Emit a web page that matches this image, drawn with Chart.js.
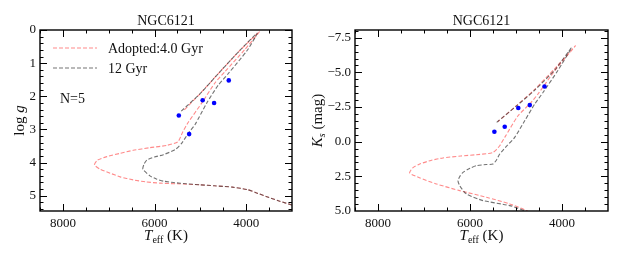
<!DOCTYPE html>
<html>
<head>
<meta charset="utf-8">
<script src="https://cdn.jsdelivr.net/npm/chart.js@4.4.1/dist/chart.umd.min.js"></script>
<style>
  body { margin: 0; background: #fff; }
  #wrap { position: relative; width: 623px; height: 260px; }
  canvas { position: absolute; top: 0; }
</style>
</head>
<body>
<div id="wrap">
  <canvas id="left" width="311" height="260" style="left:0;width:311px;height:260px"></canvas>
  <canvas id="right" width="312" height="260" style="left:311px;width:312px;height:260px"></canvas>
</div>
<script>
// NGC6121: Teff-logg and Teff-Ks diagrams with two isochrones and 5 stars.
const starTeff = [5470, 5245, 4950, 4700, 4380];
const starLogg = [2.58, 3.14, 2.12, 2.20, 1.52];
const starKs = [-0.72, -1.08, -2.43, -2.64, -3.98];

// adopted 4.0 Gyr isochrone
const youngTeffG = [3000, 3300, 3550, 3800, 3960, 4300, 4700, 5000, 5500, 5880, 6200, 6467, 6750, 6968, 7200, 7311, 7250, 7040, 6750, 6467, 6100, 5732, 5490, 5380, 5267, 4968, 4678, 4460, 4024, 3712, 4134, 4526, 5006, 5380];
const youngLogg  = [5.28, 5.15, 5.03, 4.90, 4.82, 4.74, 4.70, 4.67, 4.64, 4.62, 4.58, 4.52, 4.43, 4.32, 4.19, 4.07, 3.93, 3.82, 3.72, 3.63, 3.55, 3.48, 3.37, 3.06, 2.79, 2.20, 1.59, 1.25, 0.58, 0.05, 0.61, 1.19, 1.92, 2.45];

// 12 Gyr isochrone
const oldTeffG = [3000, 3300, 3550, 3800, 3960, 4300, 4700, 5000, 5300, 5580, 5806, 5950, 6100, 6255, 6230, 6168, 6000, 5806, 5551, 5405, 5261, 5115, 4860, 4613, 4395, 3980, 3762, 4134, 4526, 5006, 5420];
const oldLogg  = [5.28, 5.15, 5.03, 4.90, 4.82, 4.74, 4.70, 4.67, 4.64, 4.60, 4.56, 4.50, 4.40, 4.20, 4.05, 3.92, 3.83, 3.76, 3.61, 3.41, 3.11, 2.85, 2.20, 1.67, 1.32, 0.62, 0.10, 0.61, 1.19, 1.92, 2.45];

const youngTeffK = [4600, 4774, 5137, 5643, 6224, 6730, 7100, 7311, 7250, 7093, 6850, 6587, 6200, 5861, 5600, 5500, 5420, 5354, 5245, 4956, 4702, 4522, 4159, 3709, 4150, 4600, 4990, 5398];
const youngKs    = [5.35, 4.97, 4.49, 4.01, 3.53, 3.05, 2.60, 2.26, 1.90, 1.61, 1.35, 1.17, 1.03, 0.94, 0.85, 0.77, 0.55, 0.29, -0.31, -1.87, -2.72, -3.44, -5.12, -6.92, -5.30, -3.75, -2.60, -1.44];

const oldTeffK = [4600, 4774, 5137, 5717, 6078, 6220, 6261, 6220, 6152, 6000, 5861, 5650, 5500, 5420, 5354, 5200, 5028, 4811, 4593, 4413, 4093, 3796, 4150, 4600, 5000, 5420];
const oldKs    = [5.35, 5.04, 4.61, 4.25, 3.77, 3.20, 2.81, 2.50, 2.21, 1.92, 1.73, 1.65, 1.61, 1.30, 0.89, 0.30, -0.31, -1.51, -2.72, -3.55, -5.12, -6.77, -5.20, -3.70, -2.55, -1.40];

const teffTicks = [4000, 6000, 8000];
const loggTicks = [0, 1, 2, 3, 4, 5];
const ksTicks = [-7.5, -5, -2.5, 0, 2.5, 5];

const SERIF = "'Liberation Serif', 'DejaVu Serif', serif";
const RED = 'rgba(255, 60, 60, 0.6)';
const GREY = 'rgba(40, 40, 40, 0.65)';
const DASH = [4, 2];

const pts = (xs, ys) => xs.map((v, i) => ({ x: v, y: ys[i] }));

function minorValues(scale, step) {
    const lo = Math.min(scale.min, scale.max), hi = Math.max(scale.min, scale.max);
    const out = [];
    for (let v = Math.ceil(lo / step) * step; v <= hi + 1e-9; v += step) out.push(v);
    return out;
}

// draws text pieces (mixed italic / subscript) centred on (cx, cy)
function drawRich(ctx, parts, cx, cy, rotate) {
    ctx.save();
    ctx.translate(cx, cy);
    if (rotate) ctx.rotate(-Math.PI / 2);
    let total = 0;
    parts.forEach(p => { ctx.font = p.font; total += ctx.measureText(p.text).width; });
    let x = -total / 2;
    ctx.fillStyle = '#111';
    ctx.textBaseline = 'alphabetic';
    parts.forEach(p => {
        ctx.font = p.font;
        ctx.fillText(p.text, x, 5 + (p.dy || 0));
        x += ctx.measureText(p.text).width;
    });
    ctx.restore();
}

// inward ticks on all four sides, frame, titles, axis labels and (optionally) legend
const framePlugin = {
    id: 'frameTicks',
    afterDraw(chart, args, o) {
        const { ctx, chartArea: a, scales: { x, y } } = chart;
        ctx.save();
        ctx.strokeStyle = '#000';
        ctx.lineWidth = 1;
        const tick = (scale, values, len) => {
            values.forEach(v => {
                const p = Math.round(scale.getPixelForValue(v)) + 0.5;
                ctx.beginPath();
                if (scale.isHorizontal()) {
                    if (p < a.left || p > a.right) return;
                    ctx.moveTo(p, a.bottom); ctx.lineTo(p, a.bottom - len);
                    ctx.moveTo(p, a.top); ctx.lineTo(p, a.top + len);
                } else {
                    if (p < a.top || p > a.bottom) return;
                    ctx.moveTo(a.left, p); ctx.lineTo(a.left + len, p);
                    ctx.moveTo(a.right, p); ctx.lineTo(a.right - len, p);
                }
                ctx.stroke();
            });
        };
        tick(x, minorValues(x, o.xMinor), 3.5);
        tick(y, minorValues(y, o.yMinor), 3.5);
        tick(x, o.xMajor, 7);
        tick(y, o.yMajor, 7);
        ctx.lineWidth = 1.4;
        ctx.strokeRect(a.left, a.top, a.right - a.left, a.bottom - a.top);

        const cxMid = (a.left + a.right) / 2;
        ctx.fillStyle = '#111';
        ctx.font = `14px ${SERIF}`;
        ctx.textAlign = 'center';
        ctx.textBaseline = 'alphabetic';
        ctx.fillText(o.title, cxMid, 25);
        ctx.textAlign = 'left';

        drawRich(ctx, [
            { text: 'T', font: `italic 15px ${SERIF}` },
            { text: 'eff', font: `10px ${SERIF}`, dy: 3 },
            { text: ' (K)', font: `15px ${SERIF}` }
        ], cxMid, 235);
        drawRich(ctx, o.yLabel, o.yLabelX, (a.top + a.bottom) / 2, true);

        if (o.legend) {
            ctx.font = `14px ${SERIF}`;
            o.legend.forEach((item, i) => {
                const ly = 48 + i * 20;
                ctx.save();
                ctx.strokeStyle = item.color;
                ctx.lineWidth = 1.2;
                ctx.setLineDash(DASH);
                ctx.beginPath();
                ctx.moveTo(53, ly); ctx.lineTo(97, ly);
                ctx.stroke();
                ctx.restore();
                ctx.fillStyle = '#111';
                ctx.fillText(item.text, 108, ly + 5);
            });
            ctx.fillText(o.note, 60, 103);
        }
        ctx.restore();
    }
};

function makeChart(id, cfg) {
    const fixTicks = (vals) => (scale) => { scale.ticks = vals.map(v => ({ value: v })); };
    return new Chart(document.getElementById(id), {
        type: 'scatter',
        data: {
            datasets: [
                { data: pts(starTeff, cfg.stars), pointRadius: 2.3, backgroundColor: '#0000ff', borderWidth: 0, order: 0 },
                { data: pts(cfg.oldT, cfg.oldY), showLine: true, borderColor: GREY, borderWidth: 1.1, borderDash: DASH, pointRadius: 0, tension: 0.2, order: 1 },
                { data: pts(cfg.youngT, cfg.youngY), showLine: true, borderColor: RED, borderWidth: 1.1, borderDash: DASH, pointRadius: 0, tension: 0.2, order: 2 }
            ]
        },
        options: {
            responsive: false,
            animation: false,
            events: [],
            layout: { padding: { top: 30, right: cfg.padRight, left: 0, bottom: 0 } },
            plugins: {
                legend: { display: false },
                tooltip: { enabled: false },
                frameTicks: {
                    title: 'NGC6121',
                    xMajor: teffTicks, xMinor: 500,
                    yMajor: cfg.yTicks, yMinor: cfg.yMinor,
                    yLabel: cfg.yLabel, yLabelX: cfg.yLabelX,
                    legend: cfg.legend, note: cfg.note
                }
            },
            scales: {
                x: {
                    type: 'linear', reverse: true, min: 3000, max: 8500,
                    afterBuildTicks: fixTicks(teffTicks),
                    afterFit: (s) => { s.height = 49; },
                    grid: { display: false, drawTicks: false },
                    border: { display: false },
                    ticks: { padding: 5, color: '#111', font: { family: SERIF, size: 13 }, maxRotation: 0, callback: (v) => String(v) }
                },
                y: {
                    type: 'linear', reverse: true, min: cfg.yMin, max: cfg.yMax,
                    afterBuildTicks: fixTicks(cfg.yTicks),
                    afterFit: (s) => { s.width = cfg.yAxisWidth; },
                    grid: { display: false, drawTicks: false },
                    border: { display: false },
                    ticks: { padding: 4, color: '#111', font: { family: SERIF, size: 13 }, callback: cfg.yFormat }
                }
            }
        },
        plugins: [framePlugin]
    });
}

makeChart('left', {
    stars: starLogg,
    youngT: youngTeffG, youngY: youngLogg,
    oldT: oldTeffG, oldY: oldLogg,
    yMin: 0, yMax: 5.46, yTicks: loggTicks, yMinor: 0.2,
    yFormat: (v) => String(v),
    yAxisWidth: 40, padRight: 19,
    yLabelX: 19,
    yLabel: [
        { text: 'log ', font: `15px ${SERIF}` },
        { text: 'g', font: `italic 15px ${SERIF}` }
    ],
    legend: [
        { text: 'Adopted:4.0 Gyr', color: RED },
        { text: '12 Gyr', color: GREY }
    ],
    note: 'N=5'
});

makeChart('right', {
    stars: starKs,
    youngT: youngTeffK, youngY: youngKs,
    oldT: oldTeffK, oldY: oldKs,
    yMin: -8.06, yMax: 5, yTicks: ksTicks, yMinor: 0.5,
    yFormat: (v) => (v < 0 ? '\u2212' : '') + Math.abs(v).toFixed(1),
    yAxisWidth: 44, padRight: 15,
    yLabelX: 6,
    yLabel: [
        { text: 'K', font: `italic 15px ${SERIF}` },
        { text: 's', font: `italic 10px ${SERIF}`, dy: 3 },
        { text: ' (mag)', font: `15px ${SERIF}` }
    ]
});
</script>
</body>
</html>
